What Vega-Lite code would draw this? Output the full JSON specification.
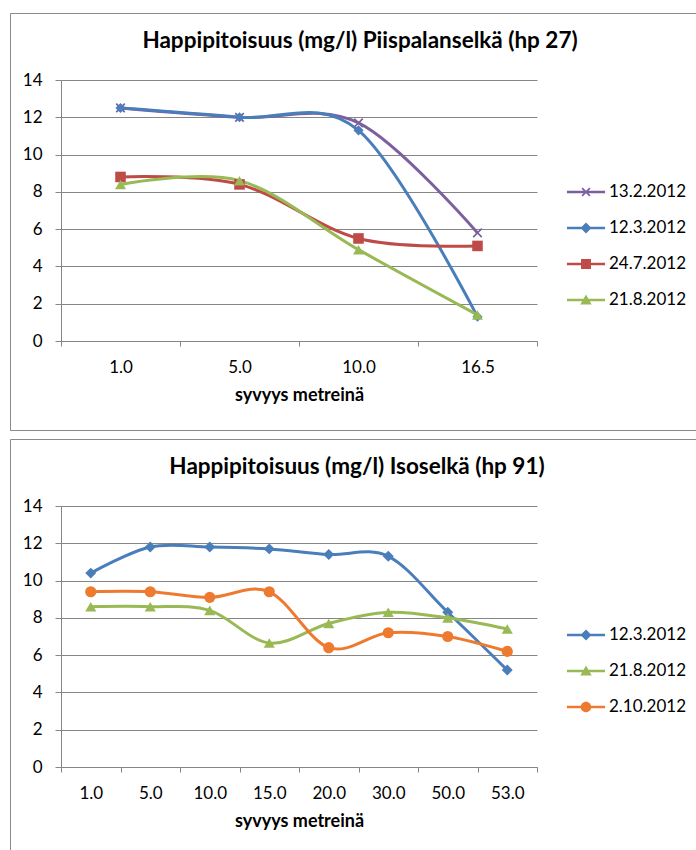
{
  "$schema": "https://vega.github.io/schema/vega-lite/v6.json",
  "padding": {"left": 9, "top": 12, "right": 1, "bottom": 0},
  "spacing": 9,
  "bounds": "flush",
  "config": {
    "font": "Lato",
    "view": {"stroke": "#8a8a8a", "strokeWidth": 1},
    "axis": {
      "domainColor": "#868686",
      "tickColor": "#868686",
      "gridColor": "#868686",
      "gridOpacity": 1,
      "labelFont": "Lato",
      "labelFontSize": 17,
      "labelColor": "#000",
      "titleFont": "Lato",
      "titleFontSize": 18,
      "titleFontWeight": "bold",
      "titleColor": "#000"
    },
    "axisX": {"grid": false, "tickSize": 5, "labelPadding": 13, "titlePadding": 11, "labelAngle": 0, "tickBand": "extent", "format": ".1f"},
    "axisY": {"tickSize": 6, "labelPadding": 13, "title": null},
    "title": {"font": "Lato", "fontSize": 22.5, "fontWeight": "bold", "color": "#000", "frame": "group", "anchor": "middle", "baseline": "alphabetic", "offset": -39},
    "legend": {"orient": "none", "title": null, "padding": 0, "symbolSize": 900, "rowPadding": 13, "labelOffset": 8, "labelFont": "Lato", "labelFontSize": 17, "labelColor": "#000", "symbolStrokeWidth": 0, "symbolOpacity": 1}
  },
  "resolve": {
    "scale": {"color": "independent", "shape": "independent", "size": "independent"},
    "legend": {"color": "independent", "shape": "independent"}
  },
  "datasets": {
    "hp27": [
      {"syvyys": 1.0, "pvm": "13.2.2012", "happi": 12.5},
      {"syvyys": 5.0, "pvm": "13.2.2012", "happi": 12.0},
      {"syvyys": 10.0, "pvm": "13.2.2012", "happi": 11.7},
      {"syvyys": 16.5, "pvm": "13.2.2012", "happi": 5.8},
      {"syvyys": 1.0, "pvm": "12.3.2012", "happi": 12.5},
      {"syvyys": 5.0, "pvm": "12.3.2012", "happi": 12.0},
      {"syvyys": 10.0, "pvm": "12.3.2012", "happi": 11.3},
      {"syvyys": 16.5, "pvm": "12.3.2012", "happi": 1.3},
      {"syvyys": 1.0, "pvm": "24.7.2012", "happi": 8.8},
      {"syvyys": 5.0, "pvm": "24.7.2012", "happi": 8.4},
      {"syvyys": 10.0, "pvm": "24.7.2012", "happi": 5.5},
      {"syvyys": 16.5, "pvm": "24.7.2012", "happi": 5.1},
      {"syvyys": 1.0, "pvm": "21.8.2012", "happi": 8.4},
      {"syvyys": 5.0, "pvm": "21.8.2012", "happi": 8.6},
      {"syvyys": 10.0, "pvm": "21.8.2012", "happi": 4.9},
      {"syvyys": 16.5, "pvm": "21.8.2012", "happi": 1.4}
    ],
    "hp91": [
      {"syvyys": 1.0, "pvm": "12.3.2012", "happi": 10.4},
      {"syvyys": 5.0, "pvm": "12.3.2012", "happi": 11.8},
      {"syvyys": 10.0, "pvm": "12.3.2012", "happi": 11.8},
      {"syvyys": 15.0, "pvm": "12.3.2012", "happi": 11.7},
      {"syvyys": 20.0, "pvm": "12.3.2012", "happi": 11.4},
      {"syvyys": 30.0, "pvm": "12.3.2012", "happi": 11.3},
      {"syvyys": 50.0, "pvm": "12.3.2012", "happi": 8.3},
      {"syvyys": 53.0, "pvm": "12.3.2012", "happi": 5.2},
      {"syvyys": 1.0, "pvm": "21.8.2012", "happi": 8.6},
      {"syvyys": 5.0, "pvm": "21.8.2012", "happi": 8.6},
      {"syvyys": 10.0, "pvm": "21.8.2012", "happi": 8.4},
      {"syvyys": 15.0, "pvm": "21.8.2012", "happi": 6.65},
      {"syvyys": 20.0, "pvm": "21.8.2012", "happi": 7.7},
      {"syvyys": 30.0, "pvm": "21.8.2012", "happi": 8.3},
      {"syvyys": 50.0, "pvm": "21.8.2012", "happi": 8.0},
      {"syvyys": 53.0, "pvm": "21.8.2012", "happi": 7.4},
      {"syvyys": 1.0, "pvm": "2.10.2012", "happi": 9.4},
      {"syvyys": 5.0, "pvm": "2.10.2012", "happi": 9.4},
      {"syvyys": 10.0, "pvm": "2.10.2012", "happi": 9.1},
      {"syvyys": 15.0, "pvm": "2.10.2012", "happi": 9.4},
      {"syvyys": 20.0, "pvm": "2.10.2012", "happi": 6.4},
      {"syvyys": 30.0, "pvm": "2.10.2012", "happi": 7.2},
      {"syvyys": 50.0, "pvm": "2.10.2012", "happi": 7.0},
      {"syvyys": 53.0, "pvm": "2.10.2012", "happi": 6.2}
    ]
  },
  "vconcat": [
    {
      "width": 686,
      "height": 417,
      "data": {"name": "hp27"},
      "title": {"text": "Happipitoisuus (mg/l) Piispalanselkä (hp 27)", "dx": 7},
      "encoding": {
        "x": {
          "field": "syvyys",
          "type": "ordinal",
          "bandPosition": 0.5,
          "scale": {"type": "band", "range": [51, 527], "paddingInner": 0, "paddingOuter": 0},
          "axis": {"title": "syvyys metreinä", "offset": -89}
        }
      },
      "layer": [
        {
          "mark": {"type": "line", "interpolate": "cardinal", "strokeWidth": 3},
          "encoding": {
            "y": {
              "field": "happi",
              "type": "quantitative",
              "scale": {"domain": [0, 14], "range": [328, 67], "nice": false},
              "axis": {"orient": "left", "grid": true, "labels": false, "ticks": false, "domain": false, "offset": 0, "values": [0, 2, 4, 6, 8, 10, 12, 14]}
            },
            "color": {
              "field": "pvm",
              "type": "nominal",
              "scale": {"domain": ["13.2.2012", "12.3.2012", "24.7.2012", "21.8.2012"], "range": ["#7d5fa0", "#4a7ebb", "#be4b48", "#98b954"]},
              "legend": null
            }
          }
        },
        {
          "mark": {"type": "point", "filled": true, "opacity": 1},
          "encoding": {
            "y": {
              "field": "happi",
              "type": "quantitative",
              "scale": {"domain": [0, 14], "range": [328, 67], "nice": false},
              "axis": {"orient": "left", "grid": false, "offset": -51, "values": [0, 2, 4, 6, 8, 10, 12, 14]}
            },
            "color": {
              "field": "pvm",
              "type": "nominal",
              "scale": {"domain": ["13.2.2012", "12.3.2012", "24.7.2012", "21.8.2012"], "range": ["#7d5fa0", "#4a7ebb", "#be4b48", "#98b954"]},
              "legend": null
            },
            "shape": {
              "field": "pvm",
              "type": "nominal",
              "scale": {"domain": ["13.2.2012", "12.3.2012", "24.7.2012", "21.8.2012"], "range": ["M0,-0.25L0.75,-1L1,-0.75L0.25,0L1,0.75L0.75,1L0,0.25L-0.75,1L-1,0.75L-0.25,0L-1,-0.75L-0.75,-1Z", "diamond", "square", "triangle-up"]},
              "legend": null
            },
            "size": {
              "field": "pvm",
              "type": "nominal",
              "scale": {"domain": ["13.2.2012", "12.3.2012", "24.7.2012", "21.8.2012"], "range": [95, 120, 100, 125]},
              "legend": null
            }
          }
        },
        {
          "transform": [{"filter": "false"}],
          "mark": {"type": "point", "filled": true, "opacity": 1},
          "encoding": {
            "color": {
              "field": "pvm",
              "type": "nominal",
              "scale": {"domain": ["13.2.2012", "12.3.2012", "24.7.2012", "21.8.2012"], "range": ["#7d5fa0", "#4a7ebb", "#be4b48", "#98b954"]},
              "legend": {"legendX": 561, "legendY": 164}
            },
            "shape": {
              "field": "pvm",
              "type": "nominal",
              "scale": {"domain": ["13.2.2012", "12.3.2012", "24.7.2012", "21.8.2012"], "range": ["M-1.27,-0.09H1.27V0.09H-1.27Z M0,-0.08L0.22,-0.3L0.3,-0.22L0.08,0L0.3,0.22L0.22,0.3L0,0.08L-0.22,0.3L-0.3,0.22L-0.08,0L-0.3,-0.22L-0.22,-0.3Z", "M-1.27,-0.09H1.27V0.09H-1.27Z M0,-0.37L0.37,0L0,0.37L-0.37,0Z", "M-1.27,-0.09H1.27V0.09H-1.27Z M-0.33,-0.33H0.33V0.33H-0.33Z", "M-1.27,-0.09H1.27V0.09H-1.27Z M0,-0.36L0.38,0.3L-0.38,0.3Z"]},
              "legend": {"legendX": 561, "legendY": 164}
            }
          }
        }
      ],
      "resolve": {
        "axis": {"y": "independent"},
        "scale": {"color": "independent", "shape": "independent", "size": "independent"}
      }
    },
    {
      "width": 686,
      "height": 411,
      "data": {"name": "hp91"},
      "title": {"text": "Happipitoisuus (mg/l) Isoselkä (hp 91)", "dx": 4},
      "encoding": {
        "x": {
          "field": "syvyys",
          "type": "ordinal",
          "bandPosition": 0.5,
          "scale": {"type": "band", "range": [51, 527], "paddingInner": 0, "paddingOuter": 0},
          "axis": {"title": "syvyys metreinä", "offset": -83}
        }
      },
      "layer": [
        {
          "mark": {"type": "line", "interpolate": "cardinal", "strokeWidth": 3},
          "encoding": {
            "y": {
              "field": "happi",
              "type": "quantitative",
              "scale": {"domain": [0, 14], "range": [328, 67], "nice": false},
              "axis": {"orient": "left", "grid": true, "labels": false, "ticks": false, "domain": false, "offset": 0, "values": [0, 2, 4, 6, 8, 10, 12, 14]}
            },
            "color": {
              "field": "pvm",
              "type": "nominal",
              "scale": {"domain": ["12.3.2012", "21.8.2012", "2.10.2012"], "range": ["#4a7ebb", "#98b954", "#ee7a30"]},
              "legend": null
            }
          }
        },
        {
          "mark": {"type": "point", "filled": true, "opacity": 1},
          "encoding": {
            "y": {
              "field": "happi",
              "type": "quantitative",
              "scale": {"domain": [0, 14], "range": [328, 67], "nice": false},
              "axis": {"orient": "left", "grid": false, "offset": -51, "values": [0, 2, 4, 6, 8, 10, 12, 14]}
            },
            "color": {
              "field": "pvm",
              "type": "nominal",
              "scale": {"domain": ["12.3.2012", "21.8.2012", "2.10.2012"], "range": ["#4a7ebb", "#98b954", "#ee7a30"]},
              "legend": null
            },
            "shape": {
              "field": "pvm",
              "type": "nominal",
              "scale": {"domain": ["12.3.2012", "21.8.2012", "2.10.2012"], "range": ["diamond", "triangle-up", "circle"]},
              "legend": null
            },
            "size": {
              "field": "pvm",
              "type": "nominal",
              "scale": {"domain": ["12.3.2012", "21.8.2012", "2.10.2012"], "range": [120, 125, 125]},
              "legend": null
            }
          }
        },
        {
          "transform": [{"filter": "false"}],
          "mark": {"type": "point", "filled": true, "opacity": 1},
          "encoding": {
            "color": {
              "field": "pvm",
              "type": "nominal",
              "scale": {"domain": ["12.3.2012", "21.8.2012", "2.10.2012"], "range": ["#4a7ebb", "#98b954", "#ee7a30"]},
              "legend": {"legendX": 561, "legendY": 181}
            },
            "shape": {
              "field": "pvm",
              "type": "nominal",
              "scale": {"domain": ["12.3.2012", "21.8.2012", "2.10.2012"], "range": ["M-1.27,-0.09H1.27V0.09H-1.27Z M0,-0.37L0.37,0L0,0.37L-0.37,0Z", "M-1.27,-0.09H1.27V0.09H-1.27Z M0,-0.36L0.38,0.3L-0.38,0.3Z", "M-1.27,-0.09H1.27V0.09H-1.27Z M-0.35,0A0.35,0.35,0,1,1,0.35,0A0.35,0.35,0,1,1,-0.35,0Z"]},
              "legend": {"legendX": 561, "legendY": 181}
            }
          }
        }
      ],
      "resolve": {
        "axis": {"y": "independent"},
        "scale": {"color": "independent", "shape": "independent", "size": "independent"}
      }
    }
  ]
}
